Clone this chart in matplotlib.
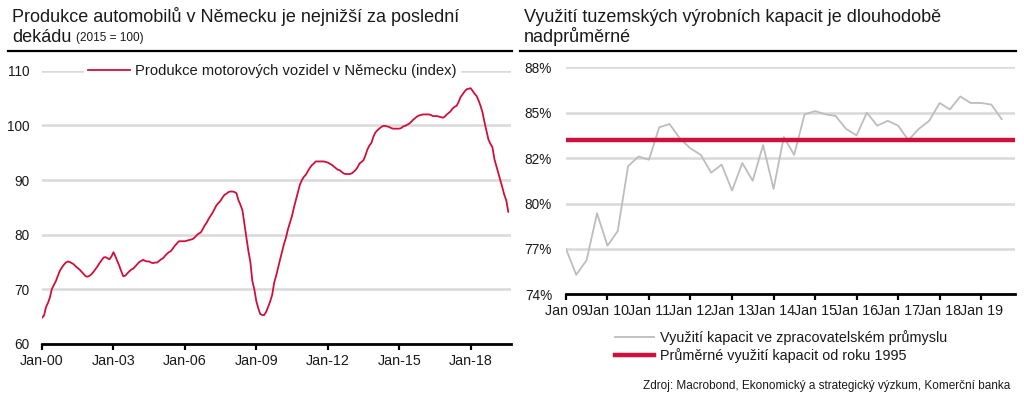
import matplotlib
matplotlib.use("Agg")
import matplotlib.pyplot as plt
import matplotlib.dates as mdates
from matplotlib.lines import Line2D
import numpy as np
import pandas as pd

plt.rcParams['font.family'] = ['Liberation Sans', 'DejaVu Sans']

# ---------------- data ----------------
# Left: German motor vehicle production index (2015 = 100), monthly Jan 2000 - Aug 2019
prod_2000 = [64.8, 65.2, 66.7, 67.5, 68.5, 70.1, 70.8, 71.5, 72.5, 73.4, 74.0, 74.5]
prod_2001 = [74.9, 75.1, 75.0, 74.8, 74.6, 74.2, 73.9, 73.6, 73.2, 72.8, 72.4, 72.3]
prod_2002 = [72.5, 72.8, 73.2, 73.7, 74.2, 74.8, 75.3, 75.8, 75.9, 75.7, 75.5, 76.0]
prod_2003 = [76.8, 76.0, 75.2, 74.3, 73.3, 72.4, 72.5, 72.9, 73.3, 73.6, 73.8, 74.2]
prod_2004 = [74.6, 75.0, 75.2, 75.4, 75.2, 75.1, 75.1, 74.9, 74.8, 74.9, 74.9, 75.2]
prod_2005 = [75.5, 75.7, 76.1, 76.5, 76.8, 77.0, 77.5, 78.0, 78.4, 78.8, 78.8, 78.8]
prod_2006 = [78.8, 78.9, 79.0, 79.1, 79.2, 79.5, 79.9, 80.2, 80.4, 81.0, 81.7, 82.2]
prod_2007 = [82.9, 83.5, 84.0, 84.7, 85.4, 85.8, 86.2, 86.8, 87.3, 87.5, 87.8, 87.9]
prod_2008 = [87.9, 87.8, 87.6, 86.3, 85.5, 84.5, 82.0, 79.5, 77.0, 75.0, 71.5, 70.0]
prod_2009 = [67.8, 66.5, 65.5, 65.3, 65.3, 65.9, 66.8, 67.8, 69.0, 71.2, 72.5, 74.0]
prod_2010 = [75.5, 77.0, 78.3, 79.5, 81.0, 82.2, 83.4, 85.0, 86.4, 87.8, 89.2, 90.0]
prod_2011 = [90.6, 91.0, 91.6, 92.2, 92.7, 93.0, 93.4, 93.4, 93.4, 93.4, 93.4, 93.3]
prod_2012 = [93.2, 93.0, 92.8, 92.5, 92.2, 91.9, 91.8, 91.5, 91.2, 91.1, 91.1, 91.1]
prod_2013 = [91.2, 91.5, 91.8, 92.3, 93.0, 93.3, 93.6, 94.5, 95.6, 96.3, 96.8, 97.9]
prod_2014 = [98.7, 99.1, 99.4, 99.7, 99.9, 99.9, 99.8, 99.7, 99.5, 99.4, 99.4, 99.4]
prod_2015 = [99.4, 99.5, 99.8, 99.9, 100.1, 100.3, 100.6, 101.0, 101.3, 101.6, 101.8, 101.9]
prod_2016 = [102.0, 102.0, 102.0, 102.0, 101.9, 101.7, 101.7, 101.7, 101.6, 101.5, 101.4, 101.6]
prod_2017 = [102.0, 102.3, 102.6, 103.1, 103.4, 103.6, 104.3, 105.2, 105.7, 106.2, 106.6, 106.7]
prod_2018 = [106.8, 106.3, 105.8, 105.4, 104.6, 103.6, 102.4, 100.6, 99.0, 97.4, 96.6, 96.0]
prod_2019 = [93.8, 92.5, 91.3, 90.0, 88.7, 87.3, 86.3, 84.2]

production = (prod_2000 + prod_2001 + prod_2002 + prod_2003 + prod_2004 + prod_2005 +
              prod_2006 + prod_2007 + prod_2008 + prod_2009 + prod_2010 + prod_2011 +
              prod_2012 + prod_2013 + prod_2014 + prod_2015 + prod_2016 + prod_2017 +
              prod_2018 + prod_2019)
prod_dates = pd.date_range("2000-01-01", periods=len(production), freq="MS")
prod_label = "Produkce motorových vozidel v Německu (index)"
left_xtick_years = [2000, 2003, 2006, 2009, 2012, 2015, 2018]

# Right: Czech manufacturing capacity utilisation (%), quarterly 2009Q1 - 2019Q3
capacity = [76.8, 75.2, 76.1, 79.0, 77.0, 77.9,
            81.9, 82.5, 82.3, 84.3, 84.5, 83.6,
            83.0, 82.6, 81.5, 82.0, 80.4, 82.1,
            81.0, 83.2, 80.5, 83.7, 82.6, 85.1,
            85.3, 85.1, 85.0, 84.2, 83.8, 85.2,
            84.4, 84.7, 84.4, 83.5, 84.2, 84.7,
            85.8, 85.4, 86.2, 85.8, 85.8, 85.7,
            84.8]
cap_dates = pd.date_range("2009-01-01", periods=len(capacity), freq="QS")
cap_average = 83.5
cap_label = "Využití kapacit ve zpracovatelském průmyslu"
avg_label = "Průměrné využití kapacit od roku 1995"
right_xtick_years = list(range(2009, 2020))

left_yticks = [60, 70, 80, 90, 100, 110]
right_yticks = [74.0, 76.8, 79.6, 82.4, 85.2, 88.0]

title_left_1 = "Produkce automobilů v Německu je nejnižší za poslední"
title_left_2 = "dekádu"
title_left_note = "(2015 = 100)"
title_right_1 = "Využití tuzemských výrobních kapacit je dlouhodobě"
title_right_2 = "nadprůměrné"
source = "Zdroj: Macrobond, Ekonomický a strategický výzkum, Komerční banka"

# ---------------- style ----------------
RED = "#D0103A"
GRAY = "#BDBDBD"
GRID = "#D9D9D9"
TXT = "#1a1a1a"

W, H = 1024, 397
fig = plt.figure(figsize=(W / 100, H / 100), dpi=100)

def fx(px):
    return px / W

def fy(py):
    return 1 - py / H

# ---------------- left axes ----------------
ax1 = fig.add_axes([fx(42), fy(344), fx(511) - fx(42), fy(70.7) - fy(344)])
ax1.plot(prod_dates, production, color=RED, lw=1.3, label=prod_label, zorder=3)
ax1.set_ylim(60, 110)
ax1.set_yticks(left_yticks)
ax1.set_xlim(pd.Timestamp("2000-01-01"), pd.Timestamp("2019-09-12"))
ax1.set_xticks([pd.Timestamp(f"{y}-01-01") for y in left_xtick_years])
ax1.xaxis.set_major_formatter(mdates.DateFormatter("%b-%y"))
ax1.grid(axis='y', color=GRID, lw=1.8, zorder=0)
ax1.set_axisbelow(True)
for s in ['top', 'right', 'left']:
    ax1.spines[s].set_visible(False)
ax1.spines['bottom'].set_linewidth(2)
ax1.spines['bottom'].set_color('black')
ax1.tick_params(axis='x', direction='out', length=4, width=1.6, color='black',
                labelsize=10.3, labelcolor=TXT, pad=3)
ax1.tick_params(axis='y', length=0, labelsize=9.8, labelcolor=TXT, pad=9)
leg1 = ax1.legend(loc='center', bbox_to_anchor=(0.49, 1.0), frameon=True,
                  fontsize=10.6, handlelength=2.9, handletextpad=0.3,
                  borderpad=0.25, borderaxespad=0)
leg1.get_frame().set_facecolor('white')
leg1.get_frame().set_edgecolor('white')
leg1.get_frame().set_alpha(1)
leg1.get_frame().set_boxstyle('square', pad=0)
for t in leg1.get_texts():
    t.set_color(TXT)

# ---------------- right axes ----------------
ax2 = fig.add_axes([fx(566), fy(294.3), fx(1015) - fx(566), fy(67.3) - fy(294.3)])
l_cap, = ax2.plot(cap_dates, capacity, color=GRAY, lw=1.3, label=cap_label, zorder=3)
l_avg = ax2.axhline(cap_average, xmin=0.004, xmax=0.996, color=RED, lw=3.2,
                    label=avg_label, zorder=4)
ax2.set_ylim(74, 88)
ax2.set_yticks(right_yticks)
ax2.yaxis.set_major_formatter(plt.FuncFormatter(lambda v, p: f"{v:.0f}%"))
ax2.set_xlim(pd.Timestamp("2009-01-01"), pd.Timestamp("2019-10-26"))
ax2.set_xticks([pd.Timestamp(f"{y}-01-01") for y in right_xtick_years])
ax2.xaxis.set_major_formatter(mdates.DateFormatter("%b %y"))
ax2.grid(axis='y', color=GRID, lw=1.8, zorder=0)
ax2.set_axisbelow(True)
for s in ['top', 'right', 'left']:
    ax2.spines[s].set_visible(False)
ax2.spines['bottom'].set_linewidth(2)
ax2.spines['bottom'].set_color('black')
ax2.tick_params(axis='x', direction='out', length=4, width=1.6, color='black',
                labelsize=10.3, labelcolor=TXT, pad=3)
ax2.tick_params(axis='y', length=0, labelsize=9.8, labelcolor=TXT, pad=10)
ax2.legend(handles=[l_cap, l_avg], loc='upper left',
           bbox_to_anchor=(fx(615), fy(330)), bbox_transform=fig.transFigure,
           frameon=False, fontsize=10.4, handlelength=2.7, handletextpad=0.45,
           labelspacing=0.2, borderpad=0, borderaxespad=0, labelcolor=TXT)

# ---------------- titles ----------------
fig.text(fx(12), fy(17), title_left_1, fontsize=13, color=TXT, va='center', ha='left')
t2 = fig.text(fx(12), fy(37), title_left_2, fontsize=13, color=TXT, va='center', ha='left')
fig.canvas.draw()
bb = t2.get_window_extent()
fig.text(bb.x1 / W + fx(5), fy(38), title_left_note, fontsize=8.5, color=TXT,
         va='center', ha='left')
fig.text(fx(524), fy(17), title_right_1, fontsize=13, color=TXT, va='center', ha='left')
fig.text(fx(524), fy(37), title_right_2, fontsize=13, color=TXT, va='center', ha='left')

fig.add_artist(Line2D([fx(8), fx(512)], [fy(50.5), fy(50.5)], color='black', lw=1.6))
fig.add_artist(Line2D([fx(520), fx(1016)], [fy(50.5), fy(50.5)], color='black', lw=1.6))

fig.text(fx(1010), fy(386), source, fontsize=8.5, color=TXT, ha='right', va='center')

fig.savefig("out.png", dpi=100)
